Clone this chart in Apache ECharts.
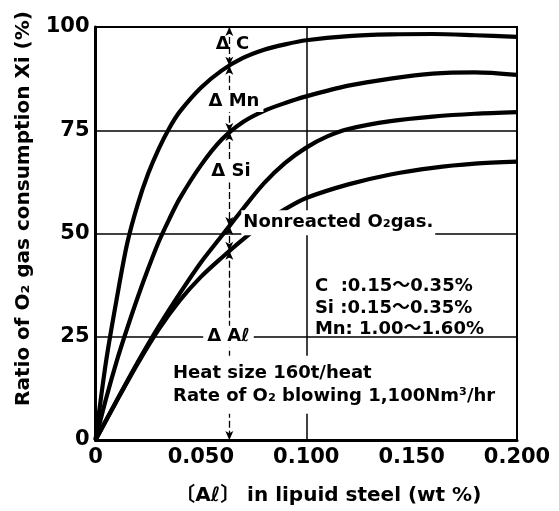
<!DOCTYPE html>
<html>
<head>
<meta charset="utf-8">
<script src="https://cdn.jsdelivr.net/npm/echarts@6/dist/echarts.min.js"></script>
<style>
  html, body { margin: 0; padding: 0; background: #fff; }
  #chart { width: 559px; height: 511px; }
</style>
</head>
<body>
<div id="chart"></div>
<script>
// Axis tick labels
var xTickLabels = ['0', '0.050', '0.100', '0.150', '0.200'];
var yTickLabels = ['0', '25', '50', '75', '100'];

// O2 consumption curves: [Al wt%, cumulative ratio %]
var curveC = [[0,0],[0.005,19],[0.01,34],[0.015,47.5],[0.02,57],[0.025,64.5],[0.03,70.5],[0.035,75.5],[0.04,79.5],[0.05,85.3],[0.06,89.5],[0.07,92.5],[0.08,94.5],[0.09,95.8],[0.1,96.8],[0.12,97.8],[0.14,98.2],[0.16,98.3],[0.18,98],[0.2,97.6]];
var curveMn = [[0,0],[0.005,10],[0.01,19],[0.015,27],[0.02,34.5],[0.025,41.5],[0.03,48],[0.035,53.5],[0.04,58.5],[0.05,66.5],[0.06,72.8],[0.07,77],[0.08,79.7],[0.09,81.6],[0.1,83.2],[0.12,85.8],[0.14,87.5],[0.16,88.7],[0.18,89],[0.2,88.4]];
var curveSi = [[0,0],[0.01,9.5],[0.02,18.8],[0.03,27.5],[0.04,35.5],[0.05,43],[0.06,49.5],[0.07,56],[0.08,62.2],[0.09,67.1],[0.1,70.8],[0.11,73.5],[0.12,75.3],[0.14,77.2],[0.16,78.3],[0.18,79],[0.2,79.4]];
var curveNR = [[0,0],[0.01,9.4],[0.02,18.5],[0.03,26.8],[0.04,33.8],[0.05,39.5],[0.06,44.2],[0.07,48.6],[0.08,52.6],[0.09,55.9],[0.1,58.6],[0.12,61.9],[0.14,64.3],[0.16,65.9],[0.18,66.9],[0.2,67.4]];

// Reference Al content for the Δ breakdown and the curve levels there
var refAl = 0.0635;
var refLevels = [100, 90.6, 74.6, 51.8, 45.8, 0];

// Vertical reference grid line
var xGridLine = 0.1;

// Annotations: [x, y, text]
var deltaLabels = [
  [0.065, 95.7, 'Δ C'],
  [0.0657, 82.1, 'Δ Mn'],
  [0.0643, 65, 'Δ Si'],
  [0.0631, 25, 'Δ Aℓ']
];
var gasLabel = [0.0692, 52.6, 'Nonreacted O₂gas.'];
var compositionLabel = [0.1041, 32.0, 'C  :0.15～0.35%\nSi :0.15～0.35%\nMn: 1.00～1.60%'];
var conditionLabel = [0.0368, 13.4, 'Heat size 160t/heat\nRate of O₂ blowing 1,100Nm³/hr'];

var FONT = '"DejaVu Sans", "Noto Sans CJK JP", sans-serif';
var INK = '#000';

var chart = echarts.init(document.getElementById('chart'), null, { renderer: 'canvas' });

function curve(name, data) {
  return {
    name: name, type: 'line', data: data, smooth: 0.3,
    symbol: 'none', z: 3, silent: true,
    lineStyle: { color: INK, width: 4.2 }
  };
}

var segs = [];
for (var i = 0; i < refLevels.length - 1; i++) {
  segs.push([{ coord: [refAl, refLevels[i]] }, { coord: [refAl, refLevels[i + 1]] }]);
}

function textSeries(points, opts) {
  return {
    type: 'scatter', z: 10, symbolSize: 0, silent: true,
    itemStyle: { color: INK, opacity: 1 },
    data: points.map(function (p) { return { value: [p[0], p[1]], name: p[2] }; }),
    label: Object.assign({
      show: true, position: 'inside', formatter: '{b}', color: INK,
      textBorderWidth: 0, textShadowBlur: 0,
      fontFamily: FONT, fontSize: 18, fontWeight: 'bold'
    }, opts)
  };
}

var option = {
  animation: false,
  backgroundColor: '#fff',
  grid: { left: 95.5, right: 42, top: 27, bottom: 67, show: true, borderColor: INK, borderWidth: 2, backgroundColor: 'transparent' },
  xAxis: {
    type: 'value', min: 0, max: 0.2, interval: 0.05,
    name: '〔Aℓ〕 in lipuid steel (wt %)', nameLocation: 'middle', nameGap: 46,
    nameTextStyle: { fontFamily: FONT, fontSize: 20, fontWeight: 'bold', color: INK, padding: [0, 0, 0, 44] },
    axisLine: { lineStyle: { color: INK, width: 3 } },
    axisTick: { show: false },
    splitLine: { show: false },
    axisLabel: {
      margin: 7, color: INK, fontFamily: FONT, fontSize: 21, fontWeight: 'bold',
      formatter: function (v) { return xTickLabels[Math.round(v / 0.05)]; }
    }
  },
  yAxis: {
    type: 'value', min: 0, max: 100, interval: 25,
    name: 'Ratio of O₂ gas consumption Xi (%)', nameLocation: 'middle', nameGap: 62, nameRotate: 90,
    nameTextStyle: { fontFamily: FONT, fontSize: 20, fontWeight: 'bold', color: INK, padding: [0, 0, 0, 50] },
    axisLine: { lineStyle: { color: INK, width: 3 } },
    axisTick: { show: false },
    splitLine: { lineStyle: { color: INK, width: 1.5 } },
    axisLabel: {
      margin: 6, color: INK, fontFamily: FONT, fontSize: 21, fontWeight: 'bold',
      formatter: function (v) { return yTickLabels[Math.round(v / 25)]; }
    }
  },
  series: [
    curve('C', curveC),
    curve('Mn', curveMn),
    curve('Si', curveSi),
    curve('Nonreacted', curveNR),
    {
      type: 'scatter', z: 2, symbolSize: 0, silent: true, data: [[xGridLine, 0]],
      markLine: {
        silent: true, symbol: 'none', label: { show: false },
        lineStyle: { color: INK, width: 1.5, type: 'solid' },
        data: [{ xAxis: xGridLine }]
      }
    },
    {
      type: 'scatter', z: 5, symbolSize: 0, silent: true, data: [[refAl, 0]],
      markLine: {
        silent: true, symbol: ['arrow', 'arrow'], symbolSize: [6, 9],
        label: { show: false },
        lineStyle: { color: INK, width: 1.3, type: [7, 3] },
        data: segs
      }
    },
    textSeries(deltaLabels.slice(0, 1), {}),
    textSeries(deltaLabels.slice(1), { backgroundColor: '#fff', padding: [2, 4] }),
    textSeries([gasLabel], { position: 'right', distance: 0, backgroundColor: '#fff', padding: [6, 2, 1, 2] }),
    textSeries([compositionLabel], { position: 'right', distance: 0, lineHeight: 21.5 }),
    textSeries([conditionLabel], { position: 'right', distance: 0, lineHeight: 23, backgroundColor: '#fff', padding: [2, 4, 10, 0] })
  ]
};

chart.setOption(option);
</script>
</body>
</html>
